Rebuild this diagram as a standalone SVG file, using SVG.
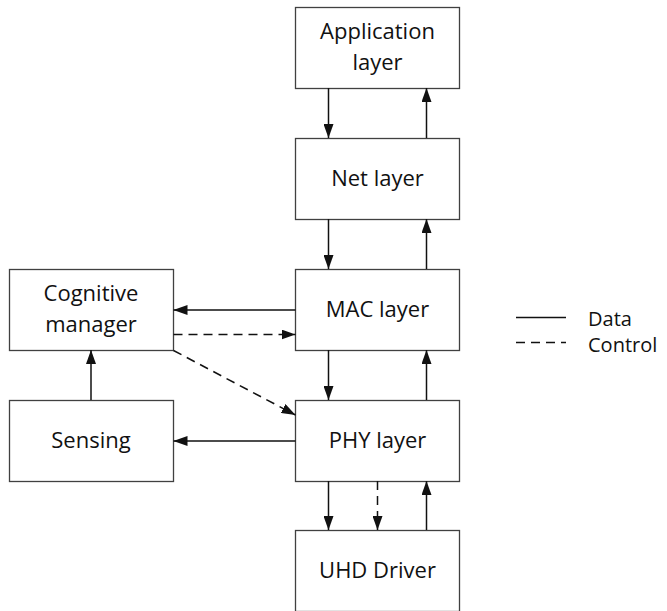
<svg xmlns="http://www.w3.org/2000/svg" width="667" height="611" viewBox="0 0 667 611">
<style>
.box{fill:#fff;stroke:#404040;stroke-width:1.3}
.t{font-family:"Open Sans","Liberation Sans",sans-serif;font-size:22px;fill:#111;text-anchor:middle}
.lt{font-family:"Open Sans","Liberation Sans",sans-serif;font-size:20px;fill:#111}
.c{stroke:#111;stroke-width:1.5;fill:none}
.d{stroke-dasharray:9,6}
</style>
<defs>
<marker id="ah" viewBox="0 0 14 10" refX="14" refY="5" markerWidth="14" markerHeight="10" markerUnits="userSpaceOnUse" orient="auto">
<path d="M0,0 L14,5 L0,10 Z" fill="#111"/>
</marker>
</defs>
<g id="app"><rect class="box" x="295.5" y="7.5" width="164" height="81"/><text class="t" x="377.5" y="39">Application</text><text class="t" x="377.5" y="70">layer</text></g>
<g id="net"><rect class="box" x="295.5" y="138.5" width="164" height="81"/><text class="t" x="377.5" y="186">Net layer</text></g>
<g id="mac"><rect class="box" x="295.5" y="269.5" width="164" height="81"/><text class="t" x="377.5" y="317">MAC layer</text></g>
<g id="phy"><rect class="box" x="295.5" y="400.5" width="164" height="81"/><text class="t" x="377.5" y="448">PHY layer</text></g>
<g id="uhd"><rect class="box" x="295.5" y="530.5" width="164" height="81"/><text class="t" x="377.5" y="578">UHD Driver</text></g>
<g id="cog"><rect class="box" x="9.5" y="269.5" width="164" height="81"/><text class="t" x="91" y="301">Cognitive</text><text class="t" x="91" y="332">manager</text></g>
<g id="sens"><rect class="box" x="9.5" y="400.5" width="164" height="81"/><text class="t" x="91" y="448">Sensing</text></g>
<g id="connectors">
<line class="c" x1="328.5" y1="88" x2="328.5" y2="138" marker-end="url(#ah)"/>
<line class="c" x1="426.5" y1="138" x2="426.5" y2="88" marker-end="url(#ah)"/>
<line class="c" x1="328.5" y1="219" x2="328.5" y2="269" marker-end="url(#ah)"/>
<line class="c" x1="426.5" y1="269" x2="426.5" y2="219" marker-end="url(#ah)"/>
<line class="c" x1="328.5" y1="350" x2="328.5" y2="400" marker-end="url(#ah)"/>
<line class="c" x1="426.5" y1="400" x2="426.5" y2="350" marker-end="url(#ah)"/>
<line class="c" x1="328.5" y1="481" x2="328.5" y2="530" marker-end="url(#ah)"/>
<line class="c d" x1="377.5" y1="481" x2="377.5" y2="530" marker-end="url(#ah)"/>
<line class="c" x1="426.5" y1="530" x2="426.5" y2="481" marker-end="url(#ah)"/>
<line class="c" x1="295.5" y1="310" x2="173.5" y2="310" marker-end="url(#ah)"/>
<line class="c d" x1="173.5" y1="334.5" x2="295.5" y2="334.5" marker-end="url(#ah)"/>
<line class="c d" x1="173.5" y1="350.5" x2="295.5" y2="415" marker-end="url(#ah)"/>
<line class="c" x1="295.5" y1="441" x2="173.5" y2="441" marker-end="url(#ah)"/>
<line class="c" x1="91" y1="400" x2="91" y2="350" marker-end="url(#ah)"/>
</g>
<g id="legend">
<line class="c" x1="516" y1="317.5" x2="566" y2="317.5"/>
<line class="c d" x1="516" y1="342.5" x2="566" y2="342.5"/>
<text class="lt" x="588" y="326">Data</text>
<text class="lt" x="588" y="352">Control</text>
</g>
</svg>
